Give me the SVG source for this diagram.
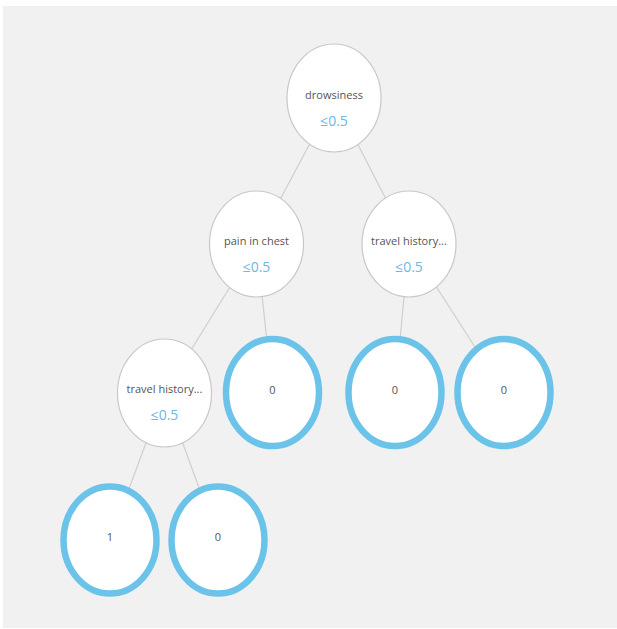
<svg xmlns="http://www.w3.org/2000/svg" width="617" height="629" viewBox="0 0 617 629">
<style>
.edge{stroke:#cfcfcf;stroke-width:1.2;fill:none}
.inner{fill:#fff;stroke:#c8c8c8;stroke-width:1.2}
.leaf{fill:#fff;stroke:#6cc3e9;stroke-width:6.5}
.lbl{font-family:"Open Sans","Noto Sans",sans-serif;font-size:11px;fill:#555;text-anchor:middle}
.val{font-family:"Open Sans","Noto Sans",sans-serif;font-size:14px;fill:#6cb8e6;text-anchor:middle}
</style>
<rect width="617" height="629" fill="#fff"/>
<rect x="3" y="6" width="614" height="622" fill="#f1f1f1"/>
<g id="edges">
<line class="edge" x1="334" y1="98" x2="256.5" y2="244"/>
<line class="edge" x1="334" y1="98" x2="409" y2="244"/>
<line class="edge" x1="256.5" y1="244" x2="164.5" y2="393"/>
<line class="edge" x1="256.5" y1="244" x2="272.5" y2="392.5"/>
<line class="edge" x1="409" y1="244" x2="395" y2="392.5"/>
<line class="edge" x1="409" y1="244" x2="504" y2="392.5"/>
<line class="edge" x1="164.5" y1="393" x2="110" y2="540"/>
<line class="edge" x1="164.5" y1="393" x2="218" y2="540"/>
</g>
<g id="n-drowsiness">
<ellipse class="inner" cx="334" cy="98" rx="47" ry="54"/>
<text class="lbl" x="334" y="98.5">drowsiness</text>
<text class="val" x="334" y="125.5">≤0.5</text>
</g>
<g id="n-pain">
<ellipse class="inner" cx="256.5" cy="244" rx="47" ry="53"/>
<text class="lbl" x="256.5" y="245">pain in chest</text>
<text class="val" x="256.5" y="272">≤0.5</text>
</g>
<g id="n-travel-r">
<ellipse class="inner" cx="409" cy="244" rx="47" ry="53"/>
<text class="lbl" x="409" y="245">travel history...</text>
<text class="val" x="409" y="272">≤0.5</text>
</g>
<g id="n-travel-l">
<ellipse class="inner" cx="164.5" cy="393" rx="47" ry="54"/>
<text class="lbl" x="164.5" y="393">travel history...</text>
<text class="val" x="164.5" y="419.5">≤0.5</text>
</g>
<g id="leaf-1">
<ellipse class="leaf" cx="272.5" cy="392.5" rx="46.5" ry="53.5"/>
<text class="lbl" x="272.5" y="393.5">0</text>
</g>
<g id="leaf-2">
<ellipse class="leaf" cx="395" cy="392.5" rx="46.5" ry="53.5"/>
<text class="lbl" x="395" y="393.5">0</text>
</g>
<g id="leaf-3">
<ellipse class="leaf" cx="504" cy="392.5" rx="46.5" ry="53.5"/>
<text class="lbl" x="504" y="393.5">0</text>
</g>
<g id="leaf-4">
<ellipse class="leaf" cx="110" cy="540" rx="46.5" ry="53.5"/>
<text class="lbl" x="110" y="541">1</text>
</g>
<g id="leaf-5">
<ellipse class="leaf" cx="218" cy="540" rx="46.5" ry="53.5"/>
<text class="lbl" x="218" y="541">0</text>
</g>
</svg>
